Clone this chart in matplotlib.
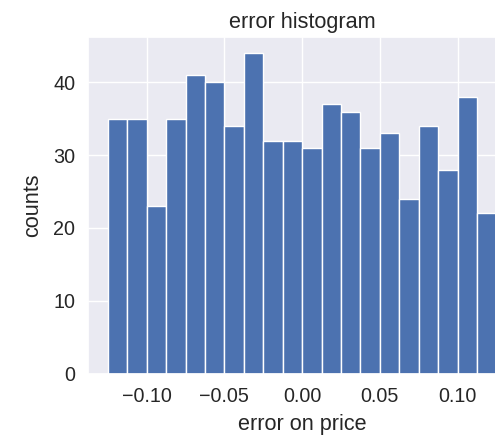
import numpy as np
import matplotlib
matplotlib.use("Agg")
import matplotlib.pyplot as plt
import seaborn as sns

# Histogram of pricing errors: 20 equal-width bins over [-0.125, 0.125]
bin_lo = -0.125
bin_hi = 0.125
counts = [35, 35, 23, 35, 41, 40, 34, 44, 32, 32,
          31, 37, 36, 31, 33, 24, 34, 28, 38, 22]
xticks = [-0.10, -0.05, 0.00, 0.05, 0.10]
yticks = [0, 10, 20, 30, 40]

sns.set_theme(style="darkgrid")
plt.rcParams['font.family'] = ['Liberation Sans', 'DejaVu Sans']

edges = np.linspace(bin_lo, bin_hi, len(counts) + 1)
centers = (edges[:-1] + edges[1:]) / 2

W, H, DPI = 495, 436, 100
fig = plt.figure(figsize=(W / DPI, H / DPI), dpi=DPI)
left_px, right_px, top_px, bottom_px = 88.4, 515.8, 37.3, 373.5
ax = fig.add_axes([left_px / W, (H - bottom_px) / H,
                   (right_px - left_px) / W, (bottom_px - top_px) / H])

ax.hist(centers, bins=edges, weights=counts, color="#4C72B0",
        edgecolor="white", linewidth=1.0)

ax.set_xticks(xticks)
ax.set_yticks(yticks)
ax.tick_params(labelsize=14.2, colors="#262626")
ax.set_xlabel("error on price", fontsize=15.6, color="#262626", labelpad=6)
ax.set_ylabel("counts", fontsize=15.6, color="#262626", labelpad=7)
ax.set_title("error histogram", fontsize=15.6, color="#262626", pad=7)

fig.savefig("out.png", dpi=DPI)
